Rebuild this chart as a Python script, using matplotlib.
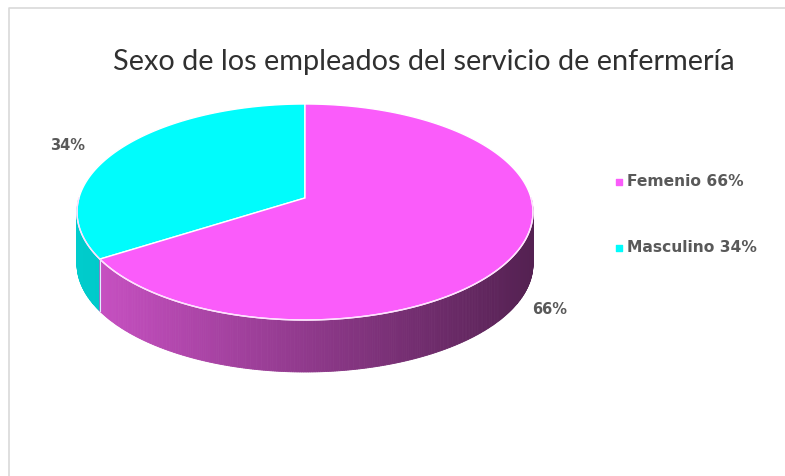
import matplotlib
matplotlib.use("Agg")
import matplotlib.pyplot as plt
import numpy as np
from matplotlib.patches import Polygon

# data
categories = ["Femenio", "Masculino"]
shares = [66, 34]
top_colors = ["#FA5CFA", "#00FCFC"]
side_left = [(0.80, 0.32, 0.78), (0.00, 0.80, 0.80)]
side_right = [(0.33, 0.13, 0.32), (0.00, 0.66, 0.66)]

title = "Sexo de los empleados del servicio de enfermería"

W, H = 785, 476
fig = plt.figure(figsize=(W / 100, H / 100), dpi=100)
ax = fig.add_axes([0, 0, 1, 1])
ax.set_xlim(0, W)
ax.set_ylim(H, 0)
ax.axis("off")

# chart frame (only left and top edges visible)
ax.plot([9, 9, 785], [476, 7.5, 7.5], color="#d9d9d9", lw=1.2)

cx, cy, rx, ry, depth = 305, 212, 228, 108, 52
beta = -0.13  # perspective shift of the pie centre


def proj(x, y):
    # projective map of unit disk onto itself, moves centre up
    d = 1 + beta * y
    return x * np.sqrt(1 - beta ** 2) / d, (y + beta) / d


def pt(t, dy=0.0):
    t = np.radians(t)
    u, v = proj(np.cos(t), -np.sin(t))
    return cx + rx * u, cy + ry * v + dy


centre = (cx + rx * proj(0, 0)[0], cy + ry * proj(0, 0)[1])

# slice angles, masculino first going counter-clockwise from 12 o'clock
angs = {}
start = 90.0
for name, s in [("Masculino", shares[1]), ("Femenio", shares[0])]:
    angs[name] = (start, start + s * 3.6)
    start += s * 3.6

order = {"Femenio": 0, "Masculino": 1}

# sides (front half only: 180..360)
for name, (a0, a1) in angs.items():
    i = order[name]
    segs = []
    for off in (0, -360):
        s0, s1 = max(a0 + off, 180), min(a1 + off, 360)
        if s1 > s0:
            segs.append((s0, s1))
    for s0, s1 in segs:
        ts = np.linspace(s0, s1, int((s1 - s0) * 2) + 2)
        for k in range(len(ts) - 1):
            x0, y0 = pt(ts[k])
            x1, y1 = pt(ts[k + 1])
            f = np.clip((x0 - (cx - rx)) / (2 * rx), 0, 1)
            c = tuple(side_left[i][j] * (1 - f) + side_right[i][j] * f for j in range(3))
            ax.add_patch(Polygon([(x0, y0), (x1, y1), (x1, y1 + depth), (x0, y0 + depth)],
                                 closed=True, fc=c, ec=c, lw=0.6))

# top faces
for name, (a0, a1) in angs.items():
    i = order[name]
    ts = np.linspace(a0, a1, 300)
    pts = [centre] + [pt(t) for t in ts]
    ax.add_patch(Polygon(pts, closed=True, fc=top_colors[i], ec="white", lw=1.0))

# front rim highlight
ts = np.linspace(180, 360, 200)
ax.plot([pt(t)[0] for t in ts], [pt(t)[1] for t in ts], color="#ffe0ff", lw=1.0)
xb, yb = pt(angs["Masculino"][1])
ax.plot([xb, xb], [yb, yb + depth], color="#e0f0ff", lw=0.8)

# data labels
lab = dict(fontweight="bold", color="#595959", family="DejaVu Sans")
ax.text(68, 145, f"{shares[1]}%", fontsize=10.5, ha="center", va="center", **lab)
ax.text(550, 309, f"{shares[0]}%", fontsize=10.5, ha="center", va="center", **lab)

# legend
for i, (cat, y) in enumerate(zip(categories, [182, 248])):
    ax.scatter([619], [y], marker="s", s=22, color=top_colors[i])
    ax.text(627, y, f"{cat} {shares[i]}%", fontsize=11.2, ha="left", va="center", **lab)

ax.text(424, 62, title, fontsize=20.8, color="#303030", family="Lato", ha="center", va="center")

fig.savefig("out.png", dpi=100)
